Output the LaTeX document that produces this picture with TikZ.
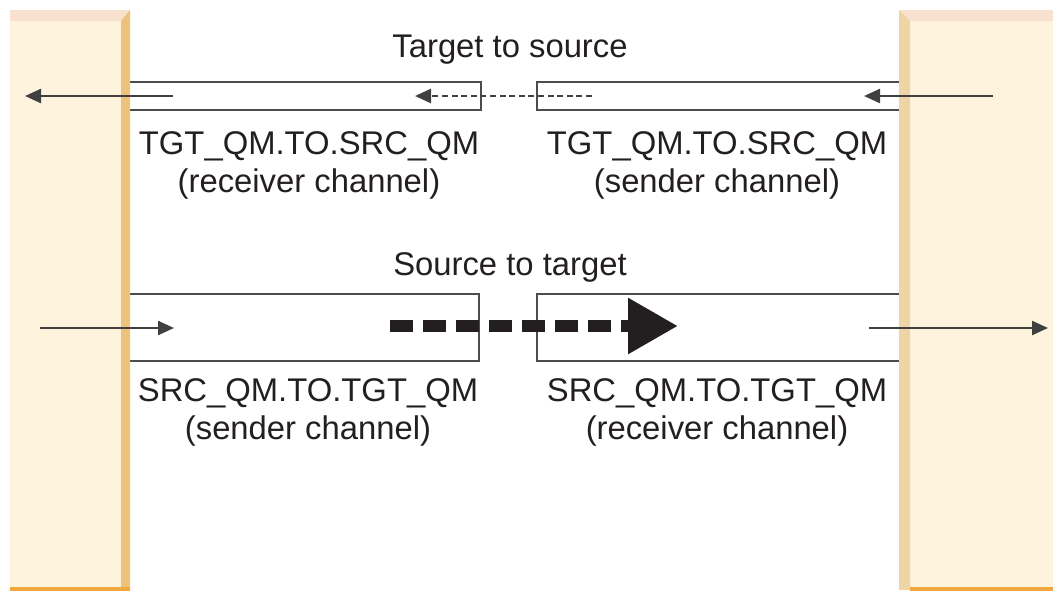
\documentclass[tikz,border=0pt]{standalone}
\usepackage{fontspec}
\setmainfont{Liberation Sans}
\usetikzlibrary{arrows.meta,positioning}

\definecolor{cream}{HTML}{FEF4DE}
\definecolor{rim}{HTML}{F8E2CF}
\definecolor{edgel}{HTML}{EFC27C}
\definecolor{edger}{HTML}{EFD4A6}
\definecolor{base}{HTML}{F1A93D}
\definecolor{ink}{HTML}{231F20}

\tikzset{
	chan/.style={draw=black!70, line width=1pt, inner sep=0pt, outer sep=0pt},
	lbl/.style={align=center, text=ink, font=\fontsize{16.4}{19}\selectfont},
	arr/.style={draw=black!75, line width=1.2pt, -{Triangle[length=8pt,width=7pt]}},
}

\begin{document}
\begin{tikzpicture}[x=0.5pt,y=-0.5pt]
		\useasboundingbox (0,0) rectangle (1053,591);
		
			\node[chan, minimum width=178pt, minimum height=14pt] (tgtrcv) at (303,96) {};
			\node[chan, minimum width=184pt, minimum height=14pt] (tgtsnd) at (721,96) {};
			\node[chan, minimum width=177pt, minimum height=33.5pt] (srcsnd) at (302,327.5) {};
			\node[chan, minimum width=184pt, minimum height=33.5pt] (srcrcv) at (721,327.5) {};
		
			\fill[cream] (10,10) rectangle (130,590);
			\fill[rim] (10,10) -- (130,10) -- (121,21) -- (10,21) -- cycle;
			\fill[edgel] (121,21) -- (130,10) -- (130,590) -- (121,590) -- cycle;
			\fill[base] (10,587) rectangle (130,591);
			\fill[cream] (899,10) rectangle (1053,590);
			\fill[rim] (899,10) -- (1053,10) -- (1053,21) -- (910,21) -- cycle;
			\fill[edger] (899,10) -- (910,21) -- (910,590) -- (899,590) -- cycle;
			\fill[base] (910,587) rectangle (1053,591);
		
			\node[lbl] (t2s) at (510,50) {Target to source};
			\node[lbl] (s2t) at (510,267) {Source to target};
			\node[lbl, below=7.5pt of tgtrcv.south, xshift=3pt] (lbl1) {TGT\_QM.TO.SRC\_QM\\(receiver channel)};
			\node[lbl, below=7.5pt of tgtsnd.south, xshift=-2pt] (lbl2) {TGT\_QM.TO.SRC\_QM\\(sender channel)};
			\node[lbl, below=5.5pt of srcsnd.south, xshift=3pt] (lbl3) {SRC\_QM.TO.TGT\_QM\\(sender channel)};
			\node[lbl, below=5.5pt of srcrcv.south, xshift=-2pt] (lbl4) {SRC\_QM.TO.TGT\_QM\\(receiver channel)};
		
			\coordinate (a1) at (173,96);
			\coordinate (a2) at (25,96);
			\coordinate (b1) at (993,96);
			\coordinate (b2) at (864,96);
			\coordinate (c1) at (592,96);
			\coordinate (c2) at (415,96);
			\coordinate (d1) at (40,328);
			\coordinate (d2) at (174,328);
			\coordinate (e1) at (869,328);
			\coordinate (e2) at (1048,328);
			\coordinate (f1) at (390,326);
			\coordinate (f2) at (678,326);
		
			\draw[arr] (a1) -- (a2);
			\draw[arr] (b1) -- (b2);
			\draw[arr, line width=1.4pt, dash pattern=on 3pt off 1.8pt] (c1) -- (c2);
			\draw[arr] (d1) -- (d2);
			\draw[arr] (e1) -- (e2);
			\draw[draw=ink, line width=6pt, dash pattern=on 11.5pt off 5pt, -{Triangle[length=25pt,width=26.5pt]}] (f1) -- (f2);
		
\end{tikzpicture}
\end{document}
